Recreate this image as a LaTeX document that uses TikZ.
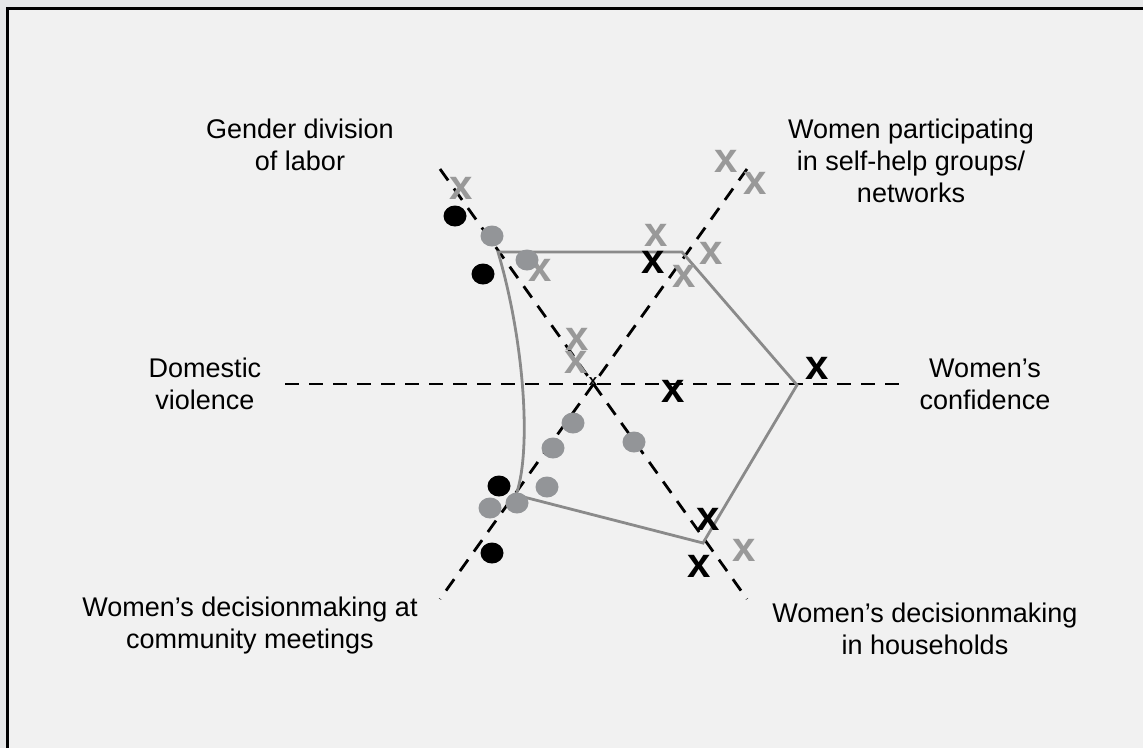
\documentclass[tikz,border=0pt]{standalone}
\usepackage{fontspec}
\usetikzlibrary{shapes.geometric}
\setmainfont{Liberation Sans}
\definecolor{outerbg}{HTML}{E6E7E8}
\definecolor{innerbg}{HTML}{F1F1F1}
\definecolor{markgray}{HTML}{999999}
\definecolor{dotgray}{HTML}{939598}
\definecolor{polygray}{HTML}{8A8A8A}
\begin{document}
\begin{tikzpicture}[x=1pt,y=-1pt,
  axis/.style={black,line width=2.8pt,dash pattern=on 14pt off 10pt},
  poly/.style={polygray,line width=2.8pt,line join=miter},
  lbl/.style={align=center,font=\fontsize{27}{32}\selectfont,inner sep=0pt},
  gx/.style={text=markgray,font=\fontsize{42}{42}\selectfont\bfseries,inner sep=0pt},
  bx/.style={text=black,font=\fontsize{42}{42}\selectfont\bfseries,inner sep=0pt},
  gdot/.style={fill=dotgray,ellipse,minimum width=23pt,minimum height=21pt,inner sep=0pt},
  bdot/.style={fill=black,ellipse,minimum width=23pt,minimum height=21pt,inner sep=0pt}]
\useasboundingbox (0,0) rectangle (1143,748);
\fill[outerbg] (0,0) rectangle (1143,748);
\fill[innerbg] (7.5,8.5) rectangle (1143,748);
\draw[black,line width=3pt] (7.5,748) -- (7.5,8.5) -- (1143,8.5);

% axes
\coordinate (c) at (593,384);
\coordinate (hl) at (285,384);
\coordinate (hr) at (905,384);
\coordinate (ul) at (440,169);
\coordinate (lr) at (747,599);
\coordinate (ur) at (747,169);
\coordinate (ll) at (440,599);
\draw[axis] (hl) -- (hr);
\draw[axis] (ul) -- (lr);
\draw[axis] (ur) -- (ll);

% polygon
\coordinate (p1) at (498,252);
\coordinate (p2) at (682,252);
\coordinate (p3) at (797,385);
\coordinate (p4) at (703,543);
\coordinate (p5) at (516,495);
\draw[poly] (p5) .. controls (532,450) and (524,340) .. (p1) -- (p2) -- (p3) -- (p4) -- cycle;

% center mark
\node[text=black,font=\fontsize{15}{15}\selectfont\bfseries,inner sep=0pt] (cx) at (593,382) {x};

% gray x marks
\node[gx] (g1) at (461,188) {x};
\node[gx] (g2) at (540,270) {x};
\node[gx] (g3) at (577,339) {x};
\node[gx] (g4) at (576,362) {x};
\node[gx] (g5) at (656,235) {x};
\node[gx] (g6) at (726,161) {x};
\node[gx] (g7) at (755,183) {x};
\node[gx] (g8) at (711,253) {x};
\node[gx] (g9) at (684,276) {x};
\node[gx] (g10) at (744,550) {x};

% black x marks
\node[bx] (b1) at (653,262) {x};
\node[bx] (b2) at (817,368) {x};
\node[bx] (b3) at (673,391) {x};
\node[bx] (b4) at (708,519) {x};
\node[bx] (b5) at (699,566) {x};

% black dots
\node[bdot] (d1) at (455,216) {};
\node[bdot] (d2) at (483,274) {};
\node[bdot] (d3) at (499,486) {};
\node[bdot] (d4) at (492,553) {};

% gray dots
\node[gdot] (e1) at (492,236) {};
\node[gdot] (e2) at (527,260) {};
\node[gdot] (e3) at (573,423) {};
\node[gdot] (e4) at (553,448) {};
\node[gdot] (e5) at (547,487) {};
\node[gdot] (e6) at (490,508) {};
\node[gdot] (e7) at (517,503) {};
\node[gdot] (e8) at (634,442) {};

% labels
\node[lbl] (L1) at (300,145) {Gender division\\of labor};
\node[lbl] (L2) at (911,161) {Women participating\\in self-help groups/\\networks};
\node[lbl] (L3) at (205,384) {Domestic\\violence};
\node[lbl] (L4) at (985,384) {Women’s\\confidence};
\node[lbl] (L5) at (250,626) {Women’s decisionmaking at\\community meetings};
\node[lbl] (L6) at (925,629) {Women’s decisionmaking\\in households};
\end{tikzpicture}
\end{document}
